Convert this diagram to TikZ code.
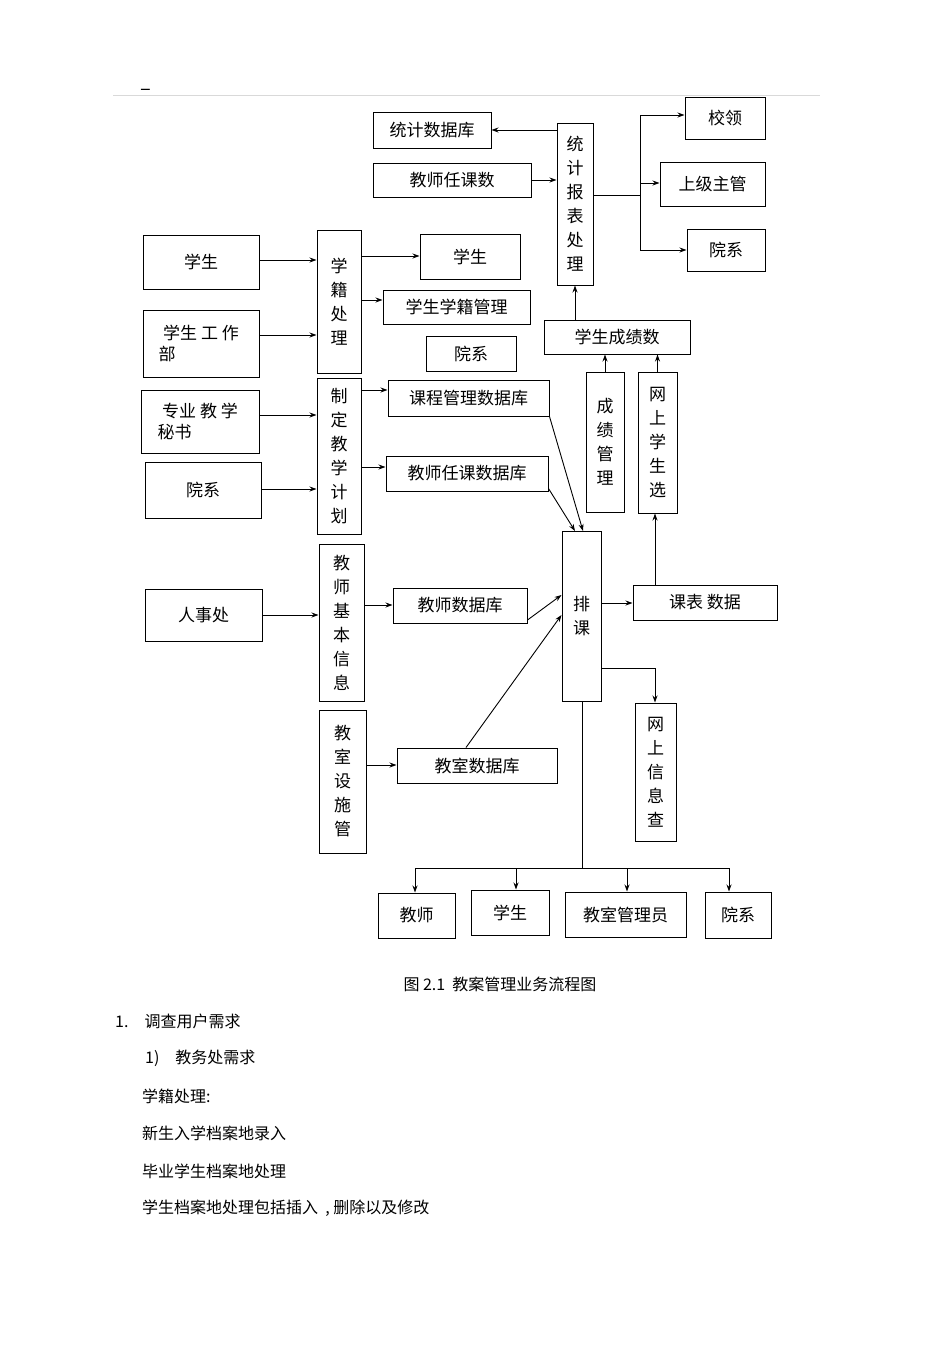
\documentclass[tikz,border=0pt]{standalone}
\usepackage{fontspec}
\setmainfont{Noto Sans CJK SC}
\usetikzlibrary{arrows.meta}
\begin{document}
\begin{tikzpicture}[x=1pt,y=-1pt,
  bx/.style={draw,line width=1pt,inner sep=0pt,font=\fontsize{17}{21}\selectfont},
  ar/.style={-{Stealth[length=7pt,width=5pt]},line width=0.9pt},
  ln/.style={line width=0.9pt},
  tx/.style={anchor=west,font=\fontsize{16}{20}\selectfont,inner sep=0pt}]
\useasboundingbox (0,0) rectangle (950,1345);
\newcommand{\B}[6]{\node[bx,minimum width=#4-#2,minimum height=#5-#3,align=center] (#1) at ({(#2+#4)/2},{(#3+#5)/2}) {#6};}
\newcommand{\V}[6]{\node[bx,minimum width=#4-#2,minimum height=#5-#3,align=center,font=\fontsize{17}{24}\selectfont] (#1) at ({(#2+#4)/2},{(#3+#5)/2}) {#6};}
\draw[gray!30,line width=0.6pt] (113,95) -- (820,95);
\node[font=\fontsize{20}{20}\selectfont,inner sep=0pt] (dash) at (146,92) {–};
\B{tjk}{373}{112}{491}{148}{统计数据库}
\B{jsrks}{373}{163}{531}{197}{教师任课数}
\V{tjbb}{557}{123}{593}{285}{统\\计\\报\\表\\处\\理}
\B{xl}{685}{97}{765}{139}{校领}
\B{sjzg}{660}{162}{765}{206}{上级主管}
\B{yx1}{687}{229}{765}{271}{院系}
\B{xscjs}{544}{320}{690}{354}{学生成绩数}
\B{xs1}{143}{235}{259}{289}{学生}
\B{xsgzb}{143}{310}{259}{377}{学生 工 作\\部\hspace*{4em}}
\V{xjcl}{317}{230}{361}{373}{学\\籍\\处\\理}
\B{xs2}{420}{234}{520}{279}{学生}
\B{xsxjgl}{383}{290}{530}{324}{学生学籍管理}
\B{yx2}{426}{336}{516}{371}{院系}
\B{zyjx}{141}{390}{259}{453}{专业 教 学\\秘书\hspace*{3em}}
\B{yx3}{145}{462}{261}{518}{院系}
\V{zdjx}{317}{378}{361}{534}{制\\定\\教\\学\\计\\划}
\B{kcgl}{388}{380}{549}{416}{课程管理数据库}
\B{jsrksjk}{386}{456}{548}{491}{教师任课数据库}
\V{cjgl}{586}{372}{624}{512}{成\\绩\\管\\理}
\V{wsxsx}{638}{372}{677}{513}{网\\上\\学\\生\\选}
\V{pk}{562}{531}{601}{701}{排\\课}
\B{kbsj}{633}{585}{777}{620}{课表 数据}
\B{rsc}{145}{589}{262}{641}{人事处}
\V{jsjb}{319}{544}{364}{701}{教\\师\\基\\本\\信\\息}
\B{jssjk}{393}{588}{527}{623}{教师数据库}
\V{wsxx}{635}{703}{676}{841}{网\\上\\信\\息\\查}
\V{jsss}{319}{710}{366}{853}{教\\室\\设\\施\\管}
\B{jssjk2}{397}{748}{557}{783}{教室数据库}
\B{js}{378}{893}{455}{938}{教师}
\B{xs3}{471}{890}{549}{935}{学生}
\B{jsgly}{565}{892}{686}{937}{教室管理员}
\B{yx4}{705}{892}{771}{938}{院系}
% arrows
\draw[ar] (xs1.east|-0,260) -- (xjcl.west|-0,260);
\draw[ar] (xsgzb.east|-0,335) -- (xjcl.west|-0,335);
\draw[ar] (xjcl.east|-0,256) -- (xs2.west|-0,256);
\draw[ar] (xjcl.east|-0,300) -- (xsxjgl.west|-0,300);
\draw[ar] (zyjx.east|-0,415) -- (zdjx.west|-0,415);
\draw[ar] (yx3.east|-0,489) -- (zdjx.west|-0,489);
\draw[ar] (zdjx.east|-0,390) -- (kcgl.west|-0,390);
\draw[ar] (zdjx.east|-0,467) -- (jsrksjk.west|-0,467);
\draw[ar] (rsc.east|-0,615) -- (jsjb.west|-0,615);
\draw[ar] (jsjb.east|-0,605) -- (jssjk.west|-0,605);
\draw[ar] (jsss.east|-0,765) -- (jssjk2.west|-0,765);
\draw[ar] (jsrks.east|-0,180) -- (tjbb.west|-0,180);
\draw[ar] (tjbb.west|-0,130) -- (tjk.east|-0,130);
\coordinate (br) at (640,195);
\draw[ln] (tjbb.east|-br) -- (br);
\draw[ln] (640,115) -- (640,250);
\draw[ar] (640,115) -- (xl.west|-0,115);
\draw[ar] (640,183) -- (sjzg.west|-0,183);
\draw[ar] (640,250) -- (yx1.west|-0,250);
\draw[ar] (xscjs.north-|575,0) -- (tjbb.south-|575,0);
\draw[ar] (cjgl.north) -- (cjgl.north|-xscjs.south);
\draw[ar] (wsxsx.north) -- (wsxsx.north|-xscjs.south);
\draw[ar] (kbsj.north-|655,0) -- (wsxsx.south-|655,0);
\draw[ar] (pk.east|-0,603) -- (kbsj.west|-0,603);
\draw[ar] (kcgl.south east) -- (583,531);
\draw[ar] (jsrksjk.east) ++(0,15) coordinate (c1) -- (575,531);
\draw[ar] (jssjk.east|-0,620) -- (pk.west|-0,595);
\draw[ar] (jssjk2.north-|466,0) -- (pk.west|-0,615);
\coordinate (q) at (655,668);
\draw[ln] (pk.east|-q) -- (q);
\draw[ar] (q) -- (wsxx.north-|q);
\draw[ln] (pk.south-|582,0) -- (582,868);
\draw[ln] (415,868) -- (729,868);
\draw[ar] (415,868) -- (js.north-|415,0);
\draw[ar] (516,868) -- (xs3.north-|516,0);
\draw[ar] (627,868) -- (jsgly.north-|627,0);
\draw[ar] (729,868) -- (yx4.north-|729,0);
\node[font=\fontsize{16}{20}\selectfont,inner sep=0pt] (cap) at (500,984) {图 2.1\ \ 教案管理业务流程图};
\node[tx] (t1) at (115,1021) {1.\quad 调查用户需求};
\node[tx] (t2) at (145,1058) {1)\quad 教务处需求};
\node[tx] (t3) at (142,1096) {学籍处理:};
\node[tx] (t4) at (142,1133) {新生入学档案地录入};
\node[tx] (t5) at (142,1171) {毕业学生档案地处理};
\node[tx] (t6) at (142,1208) {学生档案地处理包括插入\ \ , 删除以及修改};
\end{tikzpicture}
\end{document}
